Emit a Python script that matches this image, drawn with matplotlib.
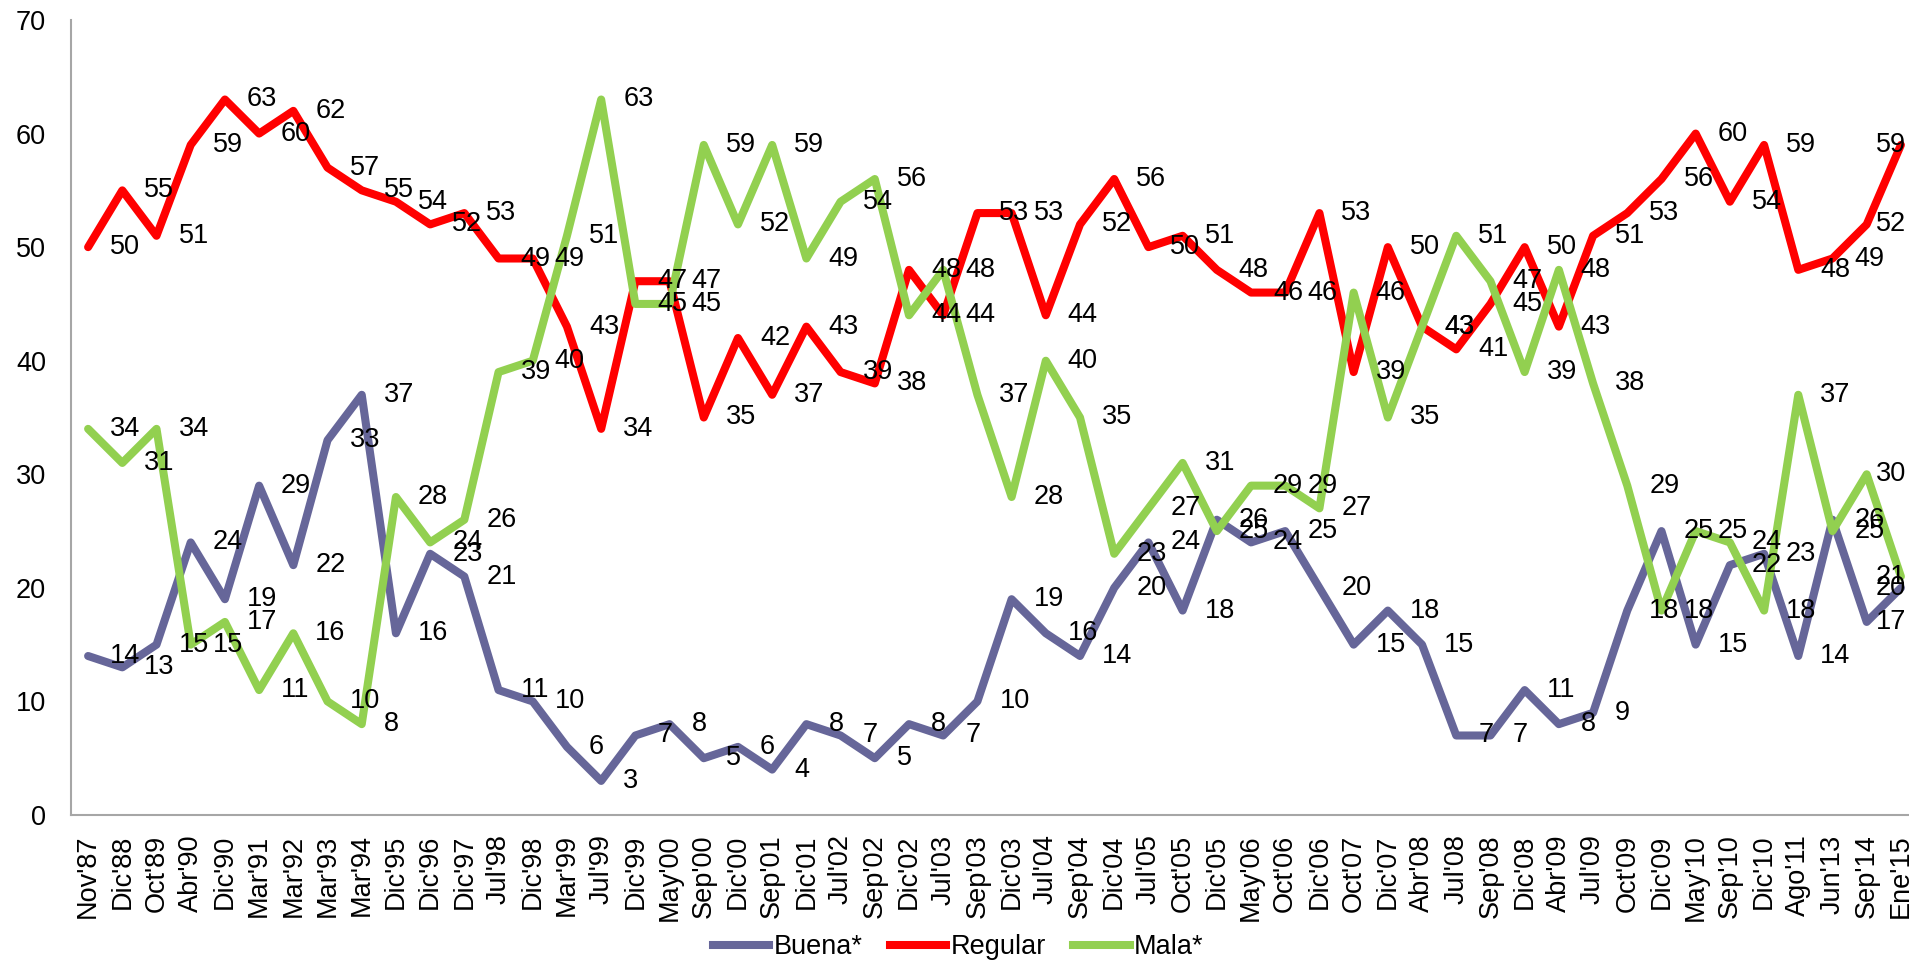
import matplotlib
matplotlib.use('Agg')
import matplotlib.pyplot as plt
from matplotlib.lines import Line2D

categories = ["Nov'87", "Dic'88", "Oct'89", "Abr'90", "Dic'90", "Mar'91", "Mar'92", "Mar'93",
              "Mar'94", "Dic'95", "Dic'96", "Dic'97", "Jul'98", "Dic'98", "Mar'99", "Jul'99",
              "Dic'99", "May'00", "Sep'00", "Dic'00", "Sep'01", "Dic'01", "Jul'02", "Sep'02",
              "Dic'02", "Jul'03", "Sep'03", "Dic'03", "Jul'04", "Sep'04", "Dic'04", "Jul'05",
              "Oct'05", "Dic'05", "May'06", "Oct'06", "Dic'06", "Oct'07", "Dic'07", "Abr'08",
              "Jul'08", "Sep'08", "Dic'08", "Abr'09", "Jul'09", "Oct'09", "Dic'09", "May'10",
              "Sep'10", "Dic'10", "Ago'11", "Jun'13", "Sep'14", "Ene'15"]

buena = [14, 13, 15, 24, 19, 29, 22, 33, 37, 16, 23, 21, 11, 10, 6, 3, 7, 8, 5, 6, 4, 8, 7, 5,
         8, 7, 10, 19, 16, 14, 20, 24, 18, 26, 24, 25, 20, 15, 18, 15, 7, 7, 11, 8, 9, 18, 25,
         15, 22, 23, 14, 26, 17, 20]
regular = [50, 55, 51, 59, 63, 60, 62, 57, 55, 54, 52, 53, 49, 49, 43, 34, 47, 47, 35, 42, 37,
           43, 39, 38, 48, 44, 53, 53, 44, 52, 56, 50, 51, 48, 46, 46, 53, 39, 50, 43, 41, 45,
           50, 43, 51, 53, 56, 60, 54, 59, 48, 49, 52, 59]
mala = [34, 31, 34, 15, 17, 11, 16, 10, 8, 28, 24, 26, 39, 40, 51, 63, 45, 45, 59, 52, 59, 49,
        54, 56, 44, 48, 37, 28, 40, 35, 23, 27, 31, 25, 29, 29, 27, 46, 35, 43, 51, 47, 39, 48,
        38, 29, 18, 25, 24, 18, 37, 25, 30, 21]

series_names = ["Buena*", "Regular", "Mala*"]
series_colors = ["#666699", "#FF0000", "#92D050"]

plt.rcParams['font.family'] = ['Liberation Sans', 'DejaVu Sans']
FS = 19.5

W, H = 1909, 965
fig = plt.figure(figsize=(W / 100, H / 100), dpi=100)
ax = fig.add_axes([71 / W, 150 / H, 1847 / W, 795 / H])

x = list(range(len(categories)))
ax.set_xlim(-0.5, len(categories) - 0.5)
ax.set_ylim(0, 70)

all_series = [buena, regular, mala]
for k, (vals, col) in enumerate(zip(all_series, series_colors)):
    ax.plot(x, vals, color=col, lw=5.8, solid_joinstyle='round', solid_capstyle='round',
            zorder=2 + k, clip_on=False)

# data labels to the right of each point, pushed inside the picture near the right edge
RIGHT_LIMIT = W - 3
GAP_PX = 22
for vals in all_series:
    for i, v in enumerate(vals):
        px = ax.transData.transform((i, v))[0]
        txt_w = 15 * len(str(v))
        if px + GAP_PX + txt_w <= RIGHT_LIMIT:
            ax.annotate(str(v), (i, v), xytext=(GAP_PX * 0.72, 0), textcoords='offset points',
                        ha='left', va='center', fontsize=FS, color='black', zorder=10,
                        annotation_clip=False)
        else:
            off = (RIGHT_LIMIT - px) * 0.72
            ax.annotate(str(v), (i, v), xytext=(off, 0), textcoords='offset points',
                        ha='right', va='center', fontsize=FS, color='black', zorder=10,
                        annotation_clip=False)

ax.set_yticks(range(0, 71, 10))
ax.set_xticks(x)
ax.set_xticklabels(categories, rotation=90)
for s in ['top', 'right']:
    ax.spines[s].set_visible(False)
for s in ['left', 'bottom']:
    ax.spines[s].set_color('#A6A6A6')
    ax.spines[s].set_linewidth(1.5)
ax.tick_params(axis='y', length=0, labelsize=FS, pad=18)
ax.tick_params(axis='x', length=0, labelsize=FS, pad=14)

handles = [Line2D([0], [0], color=c, lw=5.8) for c in series_colors]
fig.legend(handles, series_names, loc='center', bbox_to_anchor=(958 / W, 18 / H), ncol=3,
           frameon=False, fontsize=FS, handlelength=2.1, handletextpad=0.15,
           columnspacing=1.0)

fig.savefig('out.png', dpi=100)
